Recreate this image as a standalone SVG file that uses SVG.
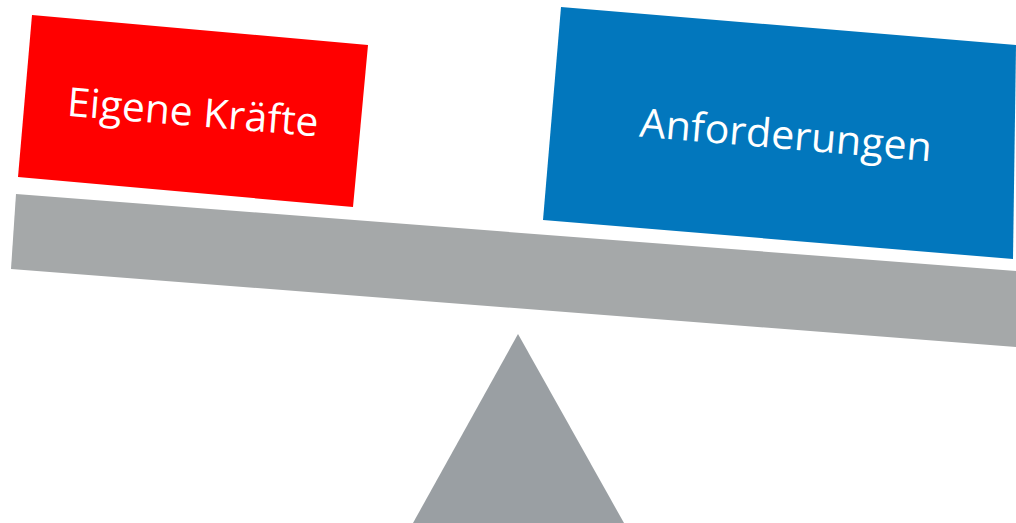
<svg xmlns="http://www.w3.org/2000/svg" width="1016" height="523" viewBox="0 0 1016 523">
<style>
.lbl{font-family:"Open Sans","Liberation Sans",sans-serif;font-size:40px;fill:#ffffff;text-anchor:middle}
</style>
<rect width="1016" height="523" fill="#ffffff"/>
<g id="fulcrum"><polygon points="518,334 624,523 413,523" fill="#9a9fa3"/></g>
<g id="beam"><polygon points="16,194 1016,271 1016,347 11,269" fill="#a5a8a9"/></g>
<g id="eigene-kraefte">
<polygon points="32,15 368,45 353,207 18,177" fill="#ff0000"/>
<text class="lbl" x="193" y="126" textLength="252" lengthAdjust="spacingAndGlyphs" transform="rotate(4.7 193 111)">Eigene Kräfte</text>
</g>
<g id="anforderungen">
<polygon points="561,7 1016,45 1013,259 543,220" fill="#0277bd"/>
<text class="lbl" x="786" y="149" textLength="293" lengthAdjust="spacingAndGlyphs" transform="rotate(4.9 786 134)">Anforderungen</text>
</g>
</svg>
